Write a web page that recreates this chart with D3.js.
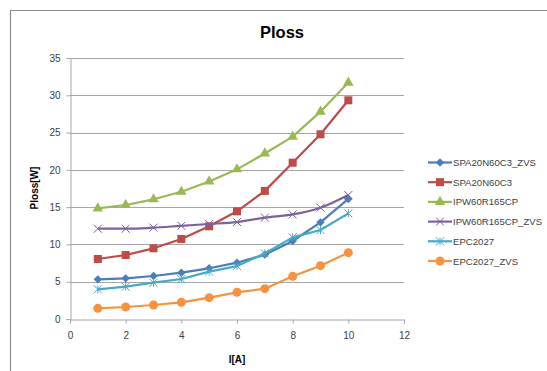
<!DOCTYPE html>
<html><head><meta charset="utf-8">
<script src="https://cdn.jsdelivr.net/npm/d3@7"></script>
<style>body{margin:0;background:#fff}svg{display:block;font-family:"Liberation Sans",Arial,sans-serif}</style>
</head><body>
<svg id="c" width="547" height="371"></svg>
<script>
const currents = [1,2,3,4,5,6,7,8,9,10];
const spa20n60c3Zvs = [5.32,5.45,5.77,6.21,6.8,7.55,8.63,10.46,12.96,16.1];
const spa20n60c3 = [8.05,8.58,9.48,10.73,12.43,14.44,17.18,20.96,24.77,29.33];
const ipw60r165cp = [14.84,15.29,16.05,17.07,18.45,20.07,22.2,24.45,27.8,31.7];
const ipw60r165cpZvs = [12.11,12.11,12.25,12.5,12.74,13.0,13.6,14.03,14.93,16.63];
const epc2027 = [3.98,4.33,4.87,5.36,6.35,7.1,8.8,10.95,11.93,14.17];
const epc2027Zvs = [1.43,1.61,1.88,2.24,2.86,3.58,4.07,5.72,7.15,8.9];
const seriesNames = ["SPA20N60C3_ZVS","SPA20N60C3","IPW60R165CP","IPW60R165CP_ZVS","EPC2027","EPC2027_ZVS"];
const seriesColors = ["#4A7EBB","#BE4B48","#98B954","#7D60A0","#46AAC5","#F69240"];
const seriesMarkers = ["diamond","square","triangle","cross","star","circle"];
const xTicks = [0,2,4,6,8,10,12];
const yTicks = [0,5,10,15,20,25,30,35];

const series = [spa20n60c3Zvs,spa20n60c3,ipw60r165cp,ipw60r165cpZvs,epc2027,epc2027Zvs];

const svg = d3.select("#c");
const x = d3.scaleLinear().domain([0,12]).range([70,404]);
const y = d3.scaleLinear().domain([0,35]).range([319,58]);

svg.append("path").attr("d","M10.5,371 V10.5 H547").attr("fill","none").attr("stroke","#8c8c8c").attr("stroke-width",1.2);

svg.append("g").selectAll("line").data(yTicks.filter(d=>d>0)).join("line")
  .attr("x1",x(0)).attr("x2",x(12)).attr("y1",d=>Math.round(y(d))+0.5).attr("y2",d=>Math.round(y(d))+0.5)
  .attr("stroke","#a6a6a6").attr("stroke-width",1);

const yAxis = d3.axisLeft(y).tickValues(yTicks).tickSize(4).tickPadding(6);
const gy = svg.append("g").attr("transform",`translate(${x(0)+0.5},0)`).call(yAxis);
const xAxis = d3.axisBottom(x).tickValues(xTicks).tickSize(4).tickPadding(8);
const gx = svg.append("g").attr("transform",`translate(0,${Math.round(y(0))+0.5})`).call(xAxis);
[gx,gy].forEach(g=>{
  g.select(".domain").attr("stroke","#a6a6a6");
  g.selectAll(".tick line").attr("stroke","#a6a6a6");
  g.selectAll(".tick text").attr("fill","#404040").attr("font-size",10).attr("font-family","Liberation Sans, Arial, sans-serif");
});

svg.append("text").attr("x",282).attr("y",38).attr("text-anchor","middle")
  .attr("font-size",16.5).attr("font-weight","bold").attr("fill","#000").text("Ploss");
svg.append("text").attr("x",237).attr("y",363).attr("text-anchor","middle")
  .attr("font-size",10).attr("font-weight","bold").attr("fill","#000").text("I[A]");
svg.append("text").attr("transform","translate(38,188) rotate(-90)").attr("text-anchor","middle")
  .attr("font-size",10).attr("font-weight","bold").attr("fill","#000").text("Ploss[W]");

function marker(g, type, color, cx, cy){
  if(type==="diamond"){
    g.append("path").attr("d",d3.symbol(d3.symbolDiamond2,45)()).attr("transform",`translate(${cx},${cy})`).attr("fill",color);
  } else if(type==="square"){
    g.append("rect").attr("x",cx-4).attr("y",cy-4).attr("width",8).attr("height",8).attr("fill",color);
  } else if(type==="triangle"){
    g.append("path").attr("d",d3.symbol(d3.symbolTriangle,48)()).attr("transform",`translate(${cx},${cy})`).attr("fill",color);
  } else if(type==="cross"){
    g.append("path").attr("d",`M${cx-4},${cy-4}L${cx+4},${cy+4}M${cx-4},${cy+4}L${cx+4},${cy-4}`).attr("stroke",color).attr("stroke-width",1).attr("fill","none");
  } else if(type==="star"){
    g.append("path").attr("d",`M${cx-4},${cy-4}L${cx+4},${cy+4}M${cx-4},${cy+4}L${cx+4},${cy-4}M${cx},${cy-4}L${cx},${cy+4}`).attr("stroke",color).attr("stroke-width",1).attr("fill","none");
  } else if(type==="circle"){
    g.append("circle").attr("cx",cx).attr("cy",cy).attr("r",4.5).attr("fill",color);
  }
}

const lineStraight = d3.line().x((d,i)=>x(currents[i])).y(d=>y(d));
const lineSmooth = d3.line().x((d,i)=>x(currents[i])).y(d=>y(d)).curve(d3.curveMonotoneX);
series.forEach((vals,si)=>{
  const g = svg.append("g");
  const ln = seriesMarkers[si]==="cross" ? lineSmooth : lineStraight;
  g.append("path").datum(vals).attr("d",ln).attr("fill","none").attr("stroke",seriesColors[si]).attr("stroke-width",2.2).attr("stroke-linejoin","round");
  vals.forEach((v,i)=>marker(g,seriesMarkers[si],seriesColors[si],x(currents[i]),y(v)));
});

const lg = svg.append("g");
seriesNames.forEach((n,i)=>{
  const ly = 162.5 + i*19.7;
  lg.append("line").attr("x1",428).attr("x2",452).attr("y1",ly).attr("y2",ly).attr("stroke",seriesColors[i]).attr("stroke-width",2.2);
  marker(lg,seriesMarkers[i],seriesColors[i],440,ly);
  lg.append("text").attr("x",453).attr("y",ly+3.5).attr("font-size",9.6).attr("fill","#404040").text(n);
});
</script>
</body></html>
